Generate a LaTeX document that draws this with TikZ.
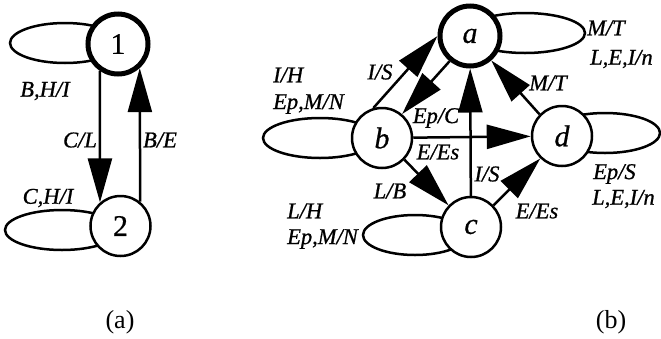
\documentclass[tikz,border=0pt]{standalone}
\usepackage{fontspec}
\setmainfont{Liberation Serif}
\newfontface\lblface{Liberation Serif Italic}[FakeBold=0.8]
\newfontface\nodeface{Liberation Serif}[FakeBold=0.6]
\newfontface\nodeiface{Liberation Serif Italic}[FakeBold=0.6]
\usetikzlibrary{arrows.meta}
\begin{document}
\begin{tikzpicture}[x=1pt,y=-1pt,
  st/.style={circle, draw, fill=white, line width=2.5pt, minimum size=60pt, inner sep=0pt, font=\fontsize{30}{30}\nodeface},
  ist/.style={st, line width=5pt},
  lbl/.style={font=\fontsize{22.5}{22.5}\lblface, inner sep=0pt},
  arr/.style={line width=2.5pt, -{Triangle[length=44pt,width=24pt]}},
  selfloop/.style={line width=2.5pt},
  captxt/.style={font=\fontsize{26}{26}\selectfont, inner sep=0pt}
]
\useasboundingbox (0,0) rectangle (661,338);
% self loops
\draw[selfloop] (65,43) ellipse [x radius=55, y radius=20];
\draw[selfloop] (62,230) ellipse [x radius=57, y radius=20];
\draw[selfloop] (525,33) ellipse [x radius=60, y radius=20];
\draw[selfloop] (320,138) ellipse [x radius=57, y radius=20];
\draw[selfloop] (415,235) ellipse [x radius=52, y radius=20];
\draw[selfloop] (605,133) ellipse [x radius=55, y radius=20];
% states
\node[ist] (n1) at (118,44) {1};
\node[st] (n2) at (120.5,226) {2};
\node[ist] (a) at (470,36) {\nodeiface a};
\node[st] (b) at (382,138) {\nodeiface b};
\node[st] (c) at (471,227) {\nodeiface c};
\node[st] (d) at (562,136) {\nodeiface d};
% transitions (a)
\draw[arr] (n1.236.4) -- (n2.131);
\draw[arr] (n2.51.4) -- (n1.312.6);
% transitions (b)
\draw[arr] (b.106) -- (a.180);
\draw[arr] (a.231) -- (b.50);
\draw[arr] (b) -- (d);
\draw[arr] (b.316) -- (c.136);
\draw[arr] (c) -- (a);
\draw[arr] (c.44) -- (d.226);
\draw[arr] (d.136) -- (a.311);
% labels (a)
\node[lbl] (l1) at (45,91) {B,H/I};
\node[lbl] (l2) at (48,198) {C,H/I};
\node[lbl] (l3) at (80,140) {C/L};
\node[lbl] (l4) at (160,140) {B/E};
% labels (b)
\node[lbl, anchor=west] (m1) at (273,75) {I/H};
\node[lbl, anchor=west] (m2) at (273,104) {Ep,M/N};
\node[lbl] (m3) at (380,72) {I/S};
\node[lbl] (m4) at (436,118) {Ep/C};
\node[lbl] (m5) at (438,152) {E/Es};
\node[lbl] (m6) at (390,191) {L/B};
\node[lbl] (m7) at (548,83) {M/T};
\node[lbl, anchor=west] (m8) at (587,28) {M/T};
\node[lbl, anchor=west] (m9) at (590,59) {L,E,I/n};
\node[lbl] (m10) at (487,174) {I/S};
\node[lbl] (m11) at (537,211) {E/Es};
\node[lbl, anchor=west] (m12) at (593,174) {Ep/S};
\node[lbl, anchor=west] (m13) at (592,199) {L,E,I/n};
\node[lbl, anchor=west] (m14) at (287,211) {L/H};
\node[lbl, anchor=west] (m15) at (287,239) {Ep,M/N};
% captions
\node[captxt] (ca) at (120,322) {(a)};
\node[captxt] (cb) at (611,322) {(b)};
\end{tikzpicture}
\end{document}
